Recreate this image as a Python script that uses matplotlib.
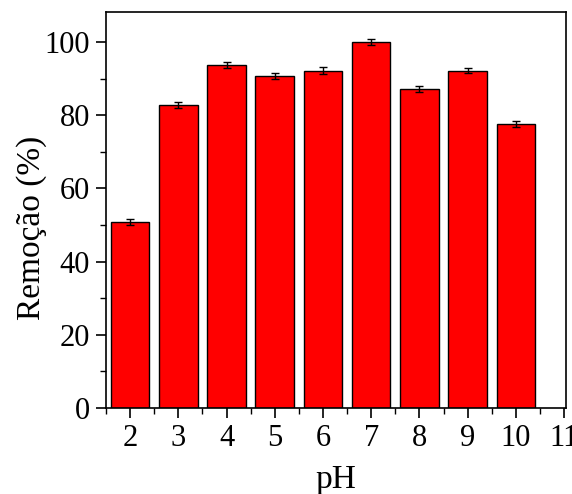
import matplotlib
matplotlib.use("Agg")
import matplotlib.pyplot as plt
from matplotlib.ticker import MultipleLocator

plt.rcParams['font.family'] = ['Liberation Serif', 'DejaVu Serif']

ph = [2, 3, 4, 5, 6, 7, 8, 9, 10]
removal = [50.9, 82.8, 93.7, 90.8, 92.2, 100.0, 87.2, 92.2, 77.6]
errors = [0.8, 0.85, 0.8, 0.8, 1.0, 0.9, 0.9, 0.8, 0.7]
xticks = [2, 3, 4, 5, 6, 7, 8, 9, 10, 11]

fig = plt.figure(figsize=(5.72, 4.94), dpi=100)
ax = fig.add_axes([0.1853, 0.174, 0.8042, 0.8017])

ax.bar(ph, removal, width=0.8, color='#ff0000', edgecolor='black', linewidth=1.0,
       yerr=errors, error_kw=dict(ecolor='black', elinewidth=1.0, capsize=3, capthick=1.0))

ax.set_xlim(1.5, 11.04)
ax.set_ylim(0, 108.2)
ax.set_xticks(xticks)
ax.xaxis.set_minor_locator(MultipleLocator(0.5))
ax.yaxis.set_major_locator(MultipleLocator(20))
ax.yaxis.set_minor_locator(MultipleLocator(10))

ax.tick_params(axis='both', which='major', direction='out', length=7.5, width=1.2, labelsize=22, pad=4)
ax.tick_params(axis='both', which='minor', direction='out', length=4, width=1.0)
ax.tick_params(top=False, right=False, which='both')

for s in ax.spines.values():
    s.set_linewidth(1.2)

ax.set_xlabel('pH', fontsize=24, labelpad=8)
ax.set_ylabel('Remoção (%)', fontsize=24)
ax.yaxis.set_label_coords(-0.128, 0.455)

fig.savefig('out.png', dpi=100)
